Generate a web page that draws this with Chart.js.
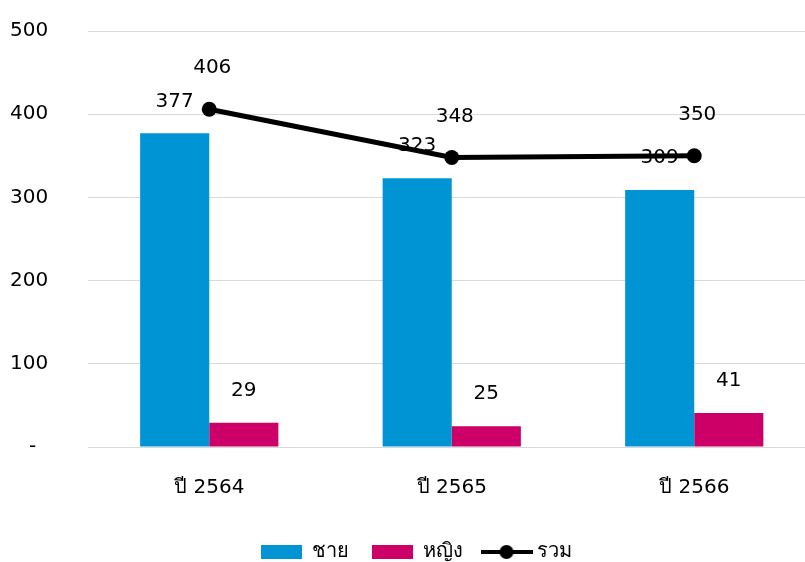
<!DOCTYPE html>
<html>
<head>
<meta charset="utf-8">
<script src="https://cdn.jsdelivr.net/npm/chart.js@4.4.0/dist/chart.umd.min.js"></script>
<style>
  html, body { margin: 0; padding: 0; background: #fff; overflow: hidden; }
  #wrap { width: 823px; height: 572px; }
</style>
</head>
<body>
<div id="wrap"><canvas id="chart" width="823" height="572"></canvas></div>
<script>
// values
var years = ['ปี 2564', 'ปี 2565', 'ปี 2566'];
var male = [377, 323, 309];
var female = [29, 25, 41];
var total = [406, 348, 350];
var yTicks = [0, 100, 200, 300, 400, 500];

var FONT = "Tahoma, 'DejaVu Sans', 'Noto Sans', sans-serif";
var SIZE = 20;
var BLUE = '#0094d4';
var PINK = '#cc0066';

// legend icons (bar boxes and line with a dot)
function boxIcon(color) {
    var c = document.createElement('canvas');
    c.width = 41; c.height = 14;
    var g = c.getContext('2d');
    g.fillStyle = color;
    g.fillRect(0, 0, 41, 14);
    return c;
}
function lineIcon() {
    var c = document.createElement('canvas');
    c.width = 52; c.height = 16;
    var g = c.getContext('2d');
    g.strokeStyle = '#000';
    g.lineWidth = 4;
    g.beginPath(); g.moveTo(0, 8); g.lineTo(52, 8); g.stroke();
    g.fillStyle = '#000';
    g.beginPath(); g.arc(26, 8, 7, 0, Math.PI * 2); g.fill();
    return c;
}
var icons = [boxIcon(BLUE), boxIcon(PINK), lineIcon()];

// value labels: bar labels right after each bar dataset, line labels on top
var valueLabels = {
    id: 'valueLabels',
    afterDatasetDraw: function (chart, args) {
        var ds = chart.data.datasets[args.index];
        if (ds.type === 'line') return;
        var ctx = chart.ctx;
        ctx.save();
        ctx.font = SIZE + 'px ' + FONT;
        ctx.fillStyle = '#000';
        ctx.textAlign = 'center';
        ctx.textBaseline = 'middle';
        args.meta.data.forEach(function (el, i) {
            ctx.fillText(ds.data[i], el.x, el.y - 32);
        });
        ctx.restore();
    },
    afterDatasetsDraw: function (chart) {
        var ctx = chart.ctx;
        ctx.save();
        ctx.font = SIZE + 'px ' + FONT;
        ctx.fillStyle = '#000';
        ctx.textAlign = 'center';
        ctx.textBaseline = 'middle';
        chart.data.datasets.forEach(function (ds, di) {
            if (ds.type !== 'line') return;
            chart.getDatasetMeta(di).data.forEach(function (el, i) {
                ctx.fillText(ds.data[i], el.x + 3, el.y - 41);
            });
        });
        ctx.restore();
    }
};

new Chart(document.getElementById('chart'), {
    type: 'bar',
    data: {
        labels: years,
        datasets: [
            { type: 'bar', label: 'ชาย', data: male, backgroundColor: BLUE, order: 1 },
            { type: 'bar', label: 'หญิง', data: female, backgroundColor: PINK, order: 1 },
            {
                type: 'line', label: 'รวม', data: total, order: 0,
                borderColor: '#000', backgroundColor: '#000', borderWidth: 5,
                pointRadius: 7.5, pointBackgroundColor: '#000', pointBorderWidth: 0,
                tension: 0
            }
        ]
    },
    options: {
        responsive: false,
        devicePixelRatio: 1,
        animation: false,
        layout: { padding: { top: 31, left: 10, right: 0, bottom: 0 } },
        datasets: { bar: { categoryPercentage: 0.57, barPercentage: 1.0 } },
        scales: {
            x: {
                grid: { display: false, drawTicks: false },
                border: { display: false },
                ticks: { color: '#000', font: { family: FONT, size: SIZE }, padding: 29 },
                afterFit: function (s) { s.height = 72; }
            },
            y: {
                min: 0, max: 500,
                afterBuildTicks: function (s) { s.ticks = yTicks.map(function (v) { return { value: v }; }); },
                grid: { color: '#d9d9d9', lineWidth: 1, drawTicks: false },
                border: { display: false },
                ticks: {
                    color: '#000', font: { family: FONT, size: SIZE }, padding: 0, crossAlign: 'far',
                    callback: function (v) { return v === 0 ? '\u2007 -' : v; }
                },
                afterFit: function (s) { s.width = 78; }
            }
        },
        plugins: {
            tooltip: { enabled: false },
            legend: {
                position: 'bottom',
                labels: {
                    color: '#000',
                    font: { family: FONT, size: SIZE },
                    usePointStyle: true,
                    pointStyleWidth: 41,
                    boxHeight: 14,
                    padding: 23,
                    generateLabels: function (chart) {
                        var items = Chart.defaults.plugins.legend.labels.generateLabels(chart);
                        items.sort(function (a, b) { return a.datasetIndex - b.datasetIndex; });
                        items.forEach(function (it) { it.pointStyle = icons[it.datasetIndex]; });
                        return items;
                    }
                }
            }
        }
    },
    plugins: [valueLabels]
});
</script>
</body>
</html>
